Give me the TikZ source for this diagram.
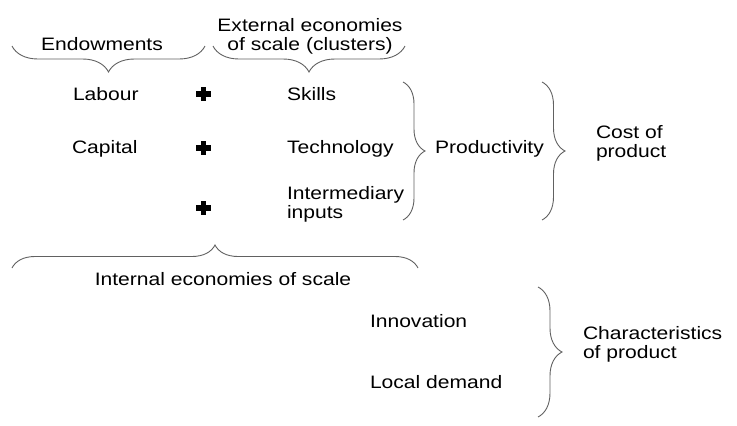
\documentclass[tikz,border=0pt]{standalone}
\usepackage{fontspec}
\setmainfont[FakeStretch=1.17]{Liberation Sans}
\usetikzlibrary{decorations.pathreplacing}
\begin{document}
\begin{tikzpicture}[x=1pt,y=-1pt,
  every node/.style={inner sep=0pt,outer sep=0pt,
    font=\fontsize{18}{19}\selectfont},
  lbl/.style={anchor=base west,align=left},
  ctr/.style={anchor=base,align=center},
  bracepath/.style={draw=black!62,line width=0.9pt,
    decorate,decoration={brace,amplitude=#1}},
  plussign/.style={minimum size=15pt,
    path picture={\fill[black]
      ([xshift=-7.5pt,yshift=-2.6pt]path picture bounding box.center) rectangle ++(15pt,5.2pt);
      \fill[black]
      ([xshift=-2.6pt,yshift=-7pt]path picture bounding box.center) rectangle ++(5.2pt,14pt);}}]
\useasboundingbox (0,0) rectangle (737,426);

% headings above the top row
\node[ctr] (endow) at (102,50) {Endowments};
\node[ctr,text width=200pt] (extern) at (310,31.5) {External economies\\of scale (clusters)};

% factor rows
\node[lbl] (labour) at (73,100) {Labour};
\node[lbl] (capital) at (72,153) {Capital};
\node[plussign] (p1) at (203.5,94) {};
\node[plussign] (p2) at (203.5,148) {};
\node[plussign] (p3) at (203.5,208) {};
\node[lbl] (skills) at (287,100) {Skills};
\node[lbl] (tech) at (287,153) {Technology};
\node[lbl] (inter) at (287,218) {Intermediary\\inputs};

\node[lbl] (prod) at (435,153) {Productivity};
\node[lbl] (cost) at (596,157) {Cost of\\product};

\node[ctr] (internal) at (223,285) {Internal economies of scale};

\node[lbl] (innov) at (370,327) {Innovation};
\node[lbl] (local) at (370,388) {Local demand};
\node[lbl] (charac) at (583,358) {Characteristics\\of product};

% brace end points
\coordinate (e1) at (12,46);   \coordinate (e2) at (205,46);
\coordinate (x1) at (213,46);  \coordinate (x2) at (405,46);
\coordinate (s1) at (403,82);  \coordinate (s2) at (403,220);
\coordinate (c1) at (542,82);  \coordinate (c2) at (542,220);
\coordinate (i1) at (12,268);  \coordinate (i2) at (418,268);
\coordinate (h1) at (538,287); \coordinate (h2) at (538,417);

% braces
\draw[bracepath=26pt,decoration={mirror}] (e1) -- (e2);
\draw[bracepath=26pt,decoration={mirror}] (x1) -- (x2);
\draw[bracepath=22pt] (s1) -- (s2);
\draw[bracepath=23pt] (c1) -- (c2);
\draw[bracepath=23pt] (i1) -- (i2);
\draw[bracepath=24pt] (h1) -- (h2);
\end{tikzpicture}
\end{document}
